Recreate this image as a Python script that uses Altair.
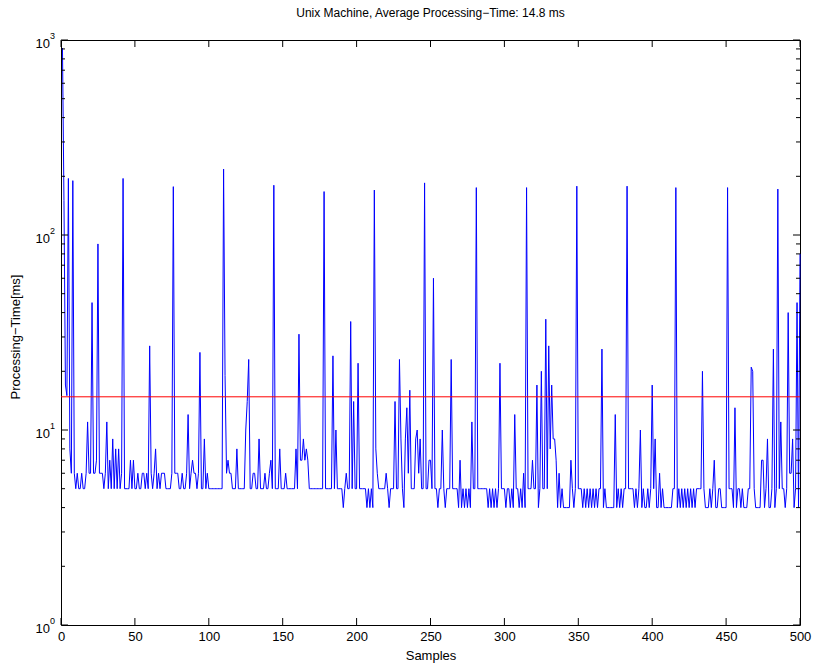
import altair as alt
import pandas as pd

# Processing time per sample (ms), samples 1..500
processing_ms = [
    910, 150, 17, 15, 195, 8, 6, 190, 6, 5,
    6, 5, 5, 6, 5, 5, 6, 11, 6, 6,
    45, 6, 6, 7, 90, 6, 6, 6, 5, 6,
    11, 5, 7, 5, 9, 5, 8, 5, 8, 5,
    6, 195, 5, 5, 5, 5, 7, 5, 7, 5,
    5, 6, 5, 5, 6, 6, 5, 6, 5, 27,
    6, 5, 6, 8, 5, 6, 5, 6, 6, 6,
    5, 5, 5, 5, 6, 177, 6, 6, 6, 5,
    5, 6, 5, 5, 6, 12, 5, 6, 7, 6,
    6, 5, 6, 25, 5, 5, 9, 5, 6, 5,
    5, 5, 5, 5, 5, 5, 5, 5, 5, 218,
    19, 6, 7, 6, 6, 5, 5, 5, 8, 5,
    5, 5, 5, 5, 10, 14, 23, 5, 5, 6,
    6, 5, 5, 9, 5, 5, 5, 6, 5, 5,
    6, 7, 5, 180, 5, 5, 5, 8, 5, 5,
    5, 6, 5, 5, 5, 5, 5, 5, 8, 5,
    31, 7, 7, 9, 7, 8, 7, 5, 5, 5,
    5, 5, 5, 5, 5, 5, 5, 167, 5, 5,
    5, 5, 5, 24, 5, 10, 5, 5, 5, 5,
    4, 5, 6, 5, 5, 36, 5, 14, 5, 5,
    22, 5, 5, 5, 5, 5, 4, 5, 4, 5,
    4, 170, 8, 6, 5, 5, 5, 5, 5, 6,
    5, 4, 5, 5, 5, 14, 5, 5, 23, 9,
    5, 4, 9, 13, 6, 16, 5, 5, 5, 9,
    10, 6, 9, 5, 5, 185, 5, 5, 7, 7,
    5, 60, 5, 5, 4, 5, 5, 10, 5, 4,
    5, 5, 5, 23, 5, 5, 5, 5, 4, 7,
    4, 5, 4, 5, 4, 5, 4, 11, 5, 5,
    175, 5, 5, 5, 5, 5, 5, 5, 4, 5,
    4, 5, 4, 5, 4, 5, 22, 5, 5, 5,
    4, 5, 5, 4, 5, 4, 12, 5, 5, 4,
    5, 4, 6, 4, 175, 5, 5, 5, 7, 5,
    5, 17, 4, 5, 20, 5, 5, 37, 5, 27,
    8, 17, 9, 9, 7, 4, 6, 4, 5, 4,
    4, 4, 4, 4, 7, 5, 4, 5, 178, 5,
    5, 5, 4, 5, 4, 5, 4, 5, 4, 5,
    4, 5, 4, 5, 5, 26, 4, 5, 4, 4,
    4, 4, 4, 4, 12, 4, 5, 4, 5, 4,
    5, 5, 178, 5, 5, 5, 5, 4, 5, 4,
    5, 10, 4, 5, 4, 4, 5, 4, 5, 17,
    5, 9, 4, 4, 6, 4, 5, 4, 4, 4,
    4, 4, 4, 5, 5, 175, 4, 5, 4, 5,
    4, 5, 4, 5, 4, 5, 4, 5, 4, 5,
    5, 5, 5, 20, 5, 4, 4, 4, 5, 4,
    5, 7, 4, 4, 5, 5, 4, 4, 4, 4,
    175, 5, 5, 5, 4, 13, 4, 5, 5, 4,
    5, 4, 4, 4, 5, 5, 21, 20, 5, 4,
    4, 4, 4, 7, 7, 4, 5, 9, 4, 4,
    5, 26, 4, 5, 172, 5, 11, 5, 5, 4,
    5, 40, 6, 6, 9, 4, 5, 45, 4, 80,
]
sample_idx = list(range(1, len(processing_ms) + 1))

average_ms = 14.8

x_ticks = list(range(0, 501, 50))
y_major = [1, 10, 100, 1000]
y_exponents = ["0", "1", "2", "3"]
y_minor = [m * d for d in (1, 10, 100) for m in range(2, 10)]

FONT = "Liberation Sans"
W, H = 739, 585

series = pd.DataFrame({"sample": sample_idx, "ms": processing_ms})
mean_df = pd.DataFrame({"ms": [average_ms]})
xt_df = pd.DataFrame({"v": x_ticks})
ymaj_df = pd.DataFrame({"v": y_major, "e": y_exponents})
ymin_df = pd.DataFrame({"v": y_minor})

x_scale = alt.Scale(domain=[0, 500], nice=False, zero=False)
y_scale = alt.Scale(type="log", domain=[1, 1000], nice=False)

# one shared axis definition per channel so that layered axes merge cleanly
x_axis = alt.Axis(values=x_ticks, ticks=False, domain=False, grid=False,
                  labelFontSize=13, labelFont=FONT, labelColor="black",
                  labelPadding=5, labelFlush=False,
                  title="Samples", titleFont=FONT, titleFontSize=13,
                  titleFontWeight="normal", titleColor="black", titlePadding=6)
y_axis = alt.Axis(labels=False, ticks=False, domain=False, grid=False,
                  title="Processing−Time[ms]", titleFont=FONT, titleFontSize=13,
                  titleFontWeight="normal", titleColor="black",
                  titleX=-39, titleY=H / 2 + 4)


def xq(field):
    return alt.X(field, scale=x_scale, axis=x_axis, title="Samples")


def yq(field):
    return alt.Y(field, scale=y_scale, axis=y_axis, title="Processing−Time[ms]")


line = alt.Chart(series).mark_line(color="#0000FF", strokeWidth=1).encode(
    x=xq("sample:Q"), y=yq("ms:Q")
)

mean_rule = alt.Chart(mean_df).mark_rule(color="#FF0000", strokeWidth=1).encode(
    y=yq("ms:Q")
)

# inward tick marks on all four sides
x_ticks_bottom = alt.Chart(xt_df).mark_rule(color="black", strokeWidth=1).encode(
    x=xq("v:Q"), y=alt.value(H), y2=alt.value(H - 7)
)
x_ticks_top = alt.Chart(xt_df).mark_rule(color="black", strokeWidth=1).encode(
    x=xq("v:Q"), y=alt.value(0), y2=alt.value(7)
)
y_major_left = alt.Chart(ymaj_df).mark_rule(color="black", strokeWidth=1).encode(
    y=yq("v:Q"), x=alt.value(0), x2=alt.value(7)
)
y_major_right = alt.Chart(ymaj_df).mark_rule(color="black", strokeWidth=1).encode(
    y=yq("v:Q"), x=alt.value(W - 7), x2=alt.value(W)
)
y_minor_left = alt.Chart(ymin_df).mark_rule(color="black", strokeWidth=1).encode(
    y=yq("v:Q"), x=alt.value(0), x2=alt.value(4)
)
y_minor_right = alt.Chart(ymin_df).mark_rule(color="black", strokeWidth=1).encode(
    y=yq("v:Q"), x=alt.value(W - 4), x2=alt.value(W)
)

# y tick labels as 10 with a raised exponent
y_base_text = alt.Chart(ymaj_df).mark_text(
    align="right", baseline="middle", fontSize=13, font=FONT, color="black", dy=4
).encode(y=yq("v:Q"), x=alt.value(-11), text=alt.value("10"))
y_exp_text = alt.Chart(ymaj_df).mark_text(
    align="left", baseline="middle", fontSize=9, font=FONT, color="black", dy=-4
).encode(y=yq("v:Q"), x=alt.value(-11), text="e:N")

chart = alt.layer(
    line, mean_rule,
    x_ticks_bottom, x_ticks_top, y_major_left, y_major_right, y_minor_left, y_minor_right,
    y_base_text, y_exp_text,
).properties(
    width=W, height=H,
    background="white",
    title=alt.TitleParams("Unix Machine, Average Processing−Time: 14.8 ms",
                          font=FONT, fontSize=12, fontWeight="normal", color="black",
                          offset=12, anchor="middle"),
    autosize=alt.AutoSizeParams(type="none"),
    padding={"left": 61, "top": 40, "right": 15, "bottom": 42},
).configure_view(stroke="black", strokeWidth=1)

chart.save("out.html", embed_options={"renderer": "svg", "actions": False})
